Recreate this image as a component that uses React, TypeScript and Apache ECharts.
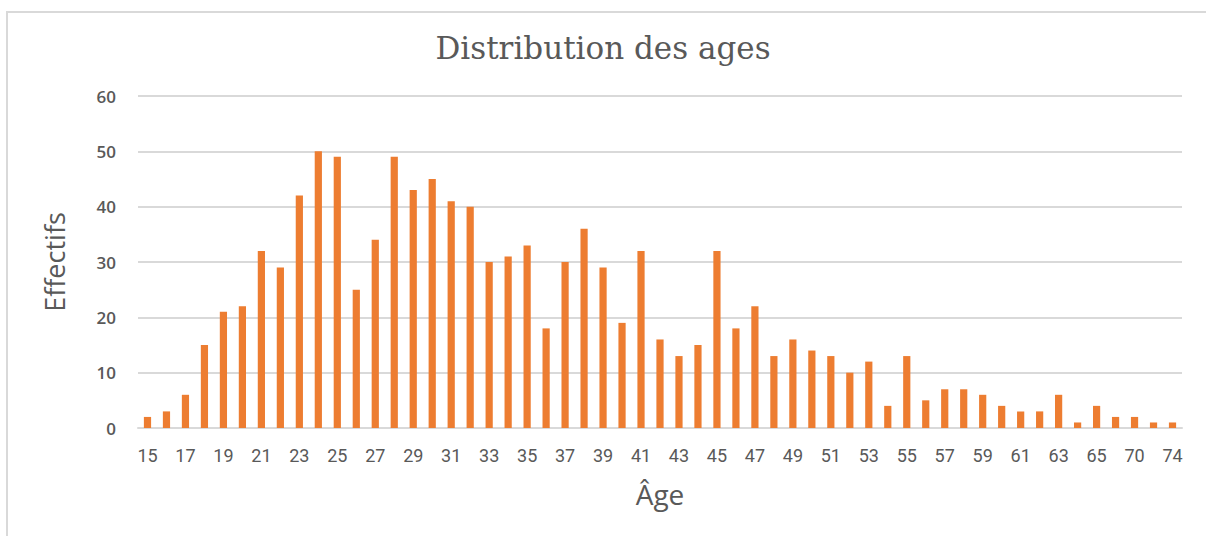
import React, { useEffect, useRef } from "react";
import * as echarts from "echarts";

const ages: string[] = [
  "15", "16", "17", "18", "19", "20", "21", "22", "23", "24", "25", "26", "27", "28", "29",
  "30", "31", "32", "33", "34", "35", "36", "37", "38", "39", "40", "41", "42", "43", "44",
  "45", "46", "47", "48", "49", "50", "51", "52", "53", "54", "55", "56", "57", "58", "59",
  "60", "61", "62", "63", "64", "65", "68", "70", "72", "74",
];

const effectifs: number[] = [
  2, 3, 6, 15, 21, 22, 32, 29, 42, 50, 49, 25, 34, 49, 43,
  45, 41, 40, 30, 31, 33, 18, 30, 36, 29, 19, 32, 16, 13, 15,
  32, 18, 22, 13, 16, 14, 13, 10, 12, 4, 13, 5, 7, 7, 6,
  4, 3, 3, 6, 1, 4, 2, 2, 1, 1,
];

const yTicks: number[] = [0, 10, 20, 30, 40, 50, 60];

const titleText = "Distribution des ages";
const xName = "Âge";
const yName = "Effectifs";

export default function App() {
  const ref = useRef<HTMLDivElement>(null);

  useEffect(() => {
    if (!ref.current) return;
    const chart = echarts.init(ref.current, null, { renderer: "svg" });
    chart.setOption({
      animation: false,
      backgroundColor: "#ffffff",
      title: {
        text: titleText,
        left: "center",
        top: 27,
        textStyle: {
          fontFamily: "DejaVu Serif, Liberation Serif, serif",
          fontSize: 31,
          fontWeight: "normal",
          color: "#595959",
        },
      },
      graphic: [
        {
          type: "rect",
          shape: { x: 7, y: 12, width: 1210, height: 540 },
          style: { fill: "none", stroke: "#d9d9d9", lineWidth: 2 },
          silent: true,
        },
      ],
      grid: { left: 138, right: 24, top: 96, bottom: 108 },
      xAxis: {
        type: "category",
        data: ages,
        name: xName,
        nameLocation: "middle",
        nameGap: 52,
        nameTextStyle: {
          fontFamily: "Open Sans, Noto Sans, sans-serif",
          fontSize: 28,
          color: "#595959",
        },
        axisLine: { lineStyle: { color: "#d9d9d9", width: 2 } },
        axisTick: { show: false },
        axisLabel: {
          interval: 1,
          margin: 18,
          fontFamily: "Liberation Sans Narrow, Roboto, sans-serif",
          fontSize: 18,
          color: "#595959",
        },
      },
      yAxis: {
        type: "value",
        min: yTicks[0],
        max: yTicks[yTicks.length - 1],
        interval: 10,
        name: yName,
        nameLocation: "middle",
        nameGap: 70,
        nameTextStyle: {
          fontFamily: "Open Sans, Noto Sans, sans-serif",
          fontSize: 27,
          color: "#595959",
        },
        axisLine: { show: false },
        axisTick: { show: false },
        axisLabel: {
          margin: 22,
          fontFamily: "Open Sans, Noto Sans, sans-serif",
          fontSize: 17,
          fontWeight: 600,
          color: "#595959",
        },
        splitLine: { lineStyle: { color: "#d9d9d9", width: 2 } },
      },
      series: [
        {
          type: "bar",
          data: effectifs,
          barWidth: "38%",
          itemStyle: { color: "#ed7d31" },
        },
      ],
    });
    return () => chart.dispose();
  }, []);

  return (
    <div
      ref={ref}
      style={{ position: "fixed", left: 0, top: 0, width: 1206, height: 536 }}
    />
  );
}
